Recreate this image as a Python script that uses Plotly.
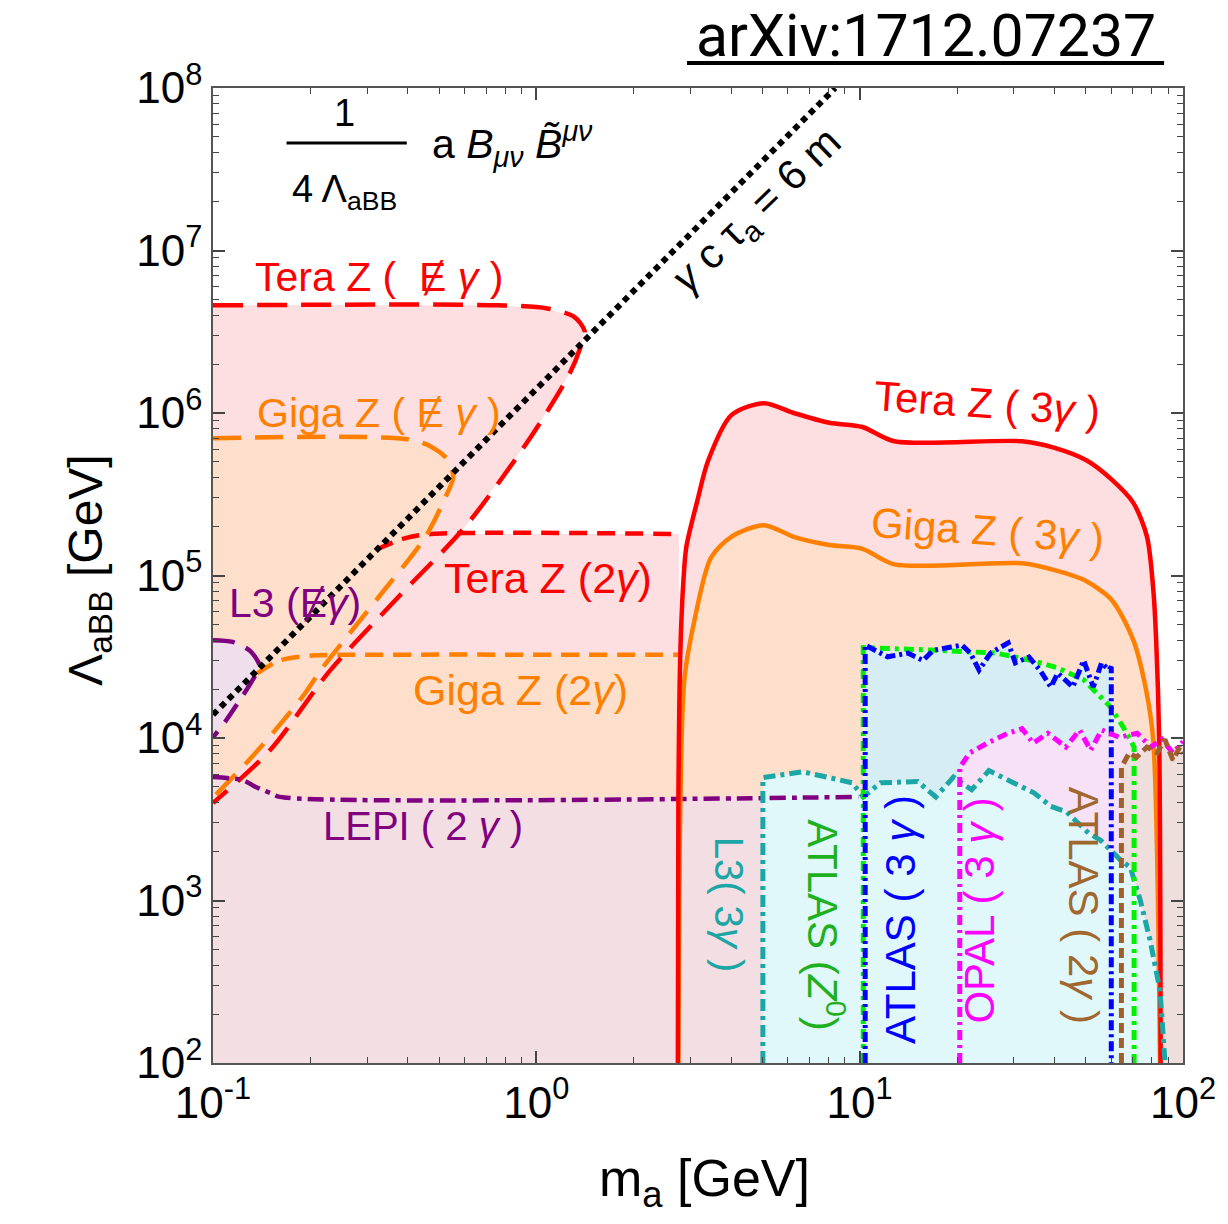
import plotly.graph_objects as go

# ---------------- data ----------------
# decay-length reference line, gamma c tau_a = 6 m
ctau_m = [0.1, 8.4]
ctau_L = [1.39e4, 1.0e8]

# Tera Z, missing energy + photon
tera_me_m = [0.1, 0.76, 1.08, 1.31, 1.41, 1.37, 1.27, 0.96, 0.603, 0.375, 0.230, 0.150, 0.1]
tera_me_L = [4.6e6, 4.6e6, 4.4e6, 3.9e6, 3.2e6, 2.55e6, 1.76e6, 7.1e5, 2.0e5, 7.4e4, 2.6e4, 8.4e3, 3.98e3]

# Giga Z, missing energy + photon
giga_me_m = [0.1, 0.40, 0.473, 0.535, 0.553, 0.522, 0.454, 0.326, 0.218, 0.189, 0.1355, 0.1]
giga_me_L = [7.0e5, 6.9e5, 6.2e5, 5.1e5, 4.0e5, 3.0e5, 1.73e5, 7.4e4, 2.7e4, 1.79e4, 8.1e3, 4.3e3]

# Tera Z / Giga Z, two photons
tera_2g_m = [0.319, 0.394, 0.473, 2.76]
tera_2g_L = [1.44e5, 1.70e5, 1.80e5, 1.80e5]
giga_2g_m = [0.137, 0.161, 0.203, 0.26, 2.76]
giga_2g_L = [2.5e4, 3.0e4, 3.22e4, 3.25e4, 3.25e4]

# Tera Z / Giga Z, three photons
tera_3g_m = [2.74, 2.75, 2.79, 2.85, 2.91, 3.15, 3.40, 4.01, 5.06, 6.25, 8.07, 10.2, 12.8,
             31.8, 40.1, 50.4, 60.1, 70.2, 77.4, 81.0, 82.6, 84.4, 85.3]
tera_3g_L = [100, 4.2e3, 3.5e4, 9.3e4, 1.5e5, 2.9e5, 5.1e5, 9.7e5, 1.15e6, 1.0e6, 8.7e5, 8.2e5, 6.7e5,
             6.7e5, 6.1e5, 5.1e5, 3.9e5, 2.8e5, 1.73e5, 8.0e4, 4.0e4, 9.7e3, 100]
giga_3g_m = [2.75, 2.79, 2.87, 3.08, 3.47, 4.01, 5.06, 6.25, 8.07, 10.2, 12.8, 31.8, 40.1,
             49.3, 60.1, 70.2, 76.9, 80.9, 84.9]
giga_3g_L = [100, 4.15e3, 2.3e4, 5.25e4, 1.29e5, 1.73e5, 2.04e5, 1.73e5, 1.54e5, 1.46e5, 1.17e5,
             1.19e5, 1.08e5, 9.4e4, 7.1e4, 4.0e4, 1.97e4, 9.7e3, 100]

# L3, missing energy + photon
l3_me_m = [0.1, 0.115, 0.130, 0.139, 0.133, 0.121, 0.110, 0.1]
l3_me_L = [4.0e4, 3.9e4, 3.45e4, 2.8e4, 2.3e4, 1.71e4, 1.29e4, 1.01e4]

# LEP I, two photons
lepi_m = [0.1, 0.1236, 0.1355, 0.150, 0.161, 9.9]
lepi_L = [5.75e3, 5.5e3, 5.0e3, 4.6e3, 4.34e3, 4.34e3]

# L3, three photons
l3_3g_m = [5.02, 5.02, 6.67, 8.59, 9.48, 10.26, 11.6, 15.1, 17.2, 19.5, 22.2, 25.1, 30.1, 34.6,
           39.0, 43.7, 51.0, 55.6, 64.0, 68.7, 73.8, 79.1, 84.9, 88.0]
l3_3g_L = [100, 5.7e3, 6.2e3, 5.6e3, 5.3e3, 4.34e3, 5.3e3, 5.4e3, 4.34e3, 5.75e3, 4.8e3, 6.3e3, 5.3e3,
           4.6e3, 3.8e3, 3.5e3, 2.6e3, 2.35e3, 1.78e3, 1.6e3, 1.0e3, 570, 280, 100]

# ATLAS, Z0 width
z0_m = [10.26, 10.26, 17.2, 21.5, 26.4, 34.1, 41.0, 49.3, 59.7, 65.3, 70.6, 70.6]
z0_L = [100, 3.6e4, 3.47e4, 3.39e4, 3.33e4, 3.0e4, 2.7e4, 2.28e4, 1.55e4, 1.17e4, 8.8e3, 100]

# ATLAS, three photons
atlas_3g_m = [10.4, 10.4, 12.2, 14.1, 15.7, 16.9, 19.2, 20.7, 22.0, 23.4, 25.4, 28.8, 30.3, 33.4,
              36.1, 39.0, 41.0, 45.6, 49.3, 52.8, 56.0, 59.0, 60.0, 60.0]
atlas_3g_L = [100, 3.73e4, 3.16e4, 3.33e4, 3.0e4, 3.47e4, 3.63e4, 3.73e4, 3.33e4, 2.62e4, 3.33e4,
              3.85e4, 2.9e4, 3.15e4, 2.62e4, 2.06e4, 2.51e4, 2.06e4, 3.0e4, 2.06e4, 2.9e4, 2.62e4,
              2.74e4, 100]

# OPAL, three photons
opal_m = [20.4, 20.4, 21.9, 24.8, 28.8, 31.8, 34.4, 38.2, 43.4, 47.9, 51.8, 56.0, 63.5, 72.1,
          79.6, 86.1, 93.1, 100]
opal_L = [100, 6.6e3, 8.1e3, 9.3e3, 1.07e4, 1.14e4, 9.3e3, 1.07e4, 8.8e3, 1.12e4, 8.4e3, 1.12e4,
          1.01e4, 1.07e4, 8.8e3, 9.8e3, 8.1e3, 9.5e3]

# ATLAS, two photons
atlas_2g_m = [64.5, 64.5, 68.2, 71.8, 77.4, 83.2, 87.9, 93.1, 97.7, 100]
atlas_2g_L = [100, 6.6e3, 8.1e3, 7.6e3, 8.8e3, 8.1e3, 9.8e3, 7.3e3, 8.8e3, 8.0e3]

x_tick_vals = [0.1, 1, 10, 100]
x_tick_text = ["10<sup>-1</sup>", "10<sup>0</sup>", "10<sup>1</sup>", "10<sup>2</sup>"]
y_tick_vals = [1e2, 1e3, 1e4, 1e5, 1e6, 1e7, 1e8]
y_tick_text = ["10<sup>%d</sup>" % k for k in range(2, 9)]

M_MIN, M_MAX, L_MIN = 0.1, 100, 100

# ---------------- styling ----------------
RED, ORANGE, PURPLE = "#FF0000", "#FF7F00", "#800080"
TEAL, GREEN, BLUE, MAGENTA, BROWN = "#1CA6A6", "#00F000", "#0000FF", "#FF00FF", "#A0602C"
PINK, PEACH, MAUVE, LAVENDER = "#FDDEE1", "#FDDFCB", "#F2DEE3", "#EFDFEC"
CYAN, LBLUE, LMAG, LGREEN, LBROWN = "#E0F8FA", "#D6EEF3", "#F7E1F6", "#E4F1E2", "#EEDFDC"
FONT = "Liberation Sans"

fig = go.Figure()


def add_fill(x, y, color):
    fig.add_trace(go.Scatter(x=x, y=y, mode="lines", fill="toself", fillcolor=color,
                             line=dict(width=0), hoverinfo="skip", showlegend=False))


def add_line(x, y, color, width, dash="solid", shape="linear"):
    fig.add_trace(go.Scatter(x=x, y=y, mode="lines", hoverinfo="skip", showlegend=False,
                             line=dict(color=color, width=width, dash=dash, shape=shape,
                                       smoothing=0.8)))


def add_text(x, y, text, size, color="black", ref="paper", angle=0, family=FONT):
    fig.add_annotation(x=x, y=y, xref=ref if ref == "paper" else "x",
                       yref=ref if ref == "paper" else "y", text=text, showarrow=False,
                       textangle=angle, xanchor="center", yanchor="middle",
                       font=dict(family=family, size=size, color=color))


# filled regions, back to front
add_fill([M_MIN] + tera_2g_m + [tera_2g_m[-1], M_MIN], [ctau_L[0]] + tera_2g_L + [L_MIN, L_MIN], PINK)
add_fill([M_MIN] + giga_2g_m + [giga_2g_m[-1], M_MIN], [ctau_L[0]] + giga_2g_L + [L_MIN, L_MIN], PEACH)
add_fill(tera_me_m, tera_me_L, PINK)
add_fill(giga_me_m, giga_me_L, PEACH)
add_fill(tera_3g_m, tera_3g_L, PINK)
add_fill(giga_3g_m, giga_3g_L, PEACH)
add_fill(l3_me_m, l3_me_L, LAVENDER)
add_fill(lepi_m + [lepi_m[-1], M_MIN], lepi_L + [L_MIN, L_MIN], MAUVE)
add_fill(z0_m, z0_L, LGREEN)
add_fill(atlas_3g_m, atlas_3g_L, LBLUE)
add_fill(opal_m + [M_MAX], opal_L + [L_MIN], LMAG)
add_fill(atlas_2g_m + [M_MAX], atlas_2g_L + [L_MIN], LBROWN)
add_fill(l3_3g_m, l3_3g_L, CYAN)

# boundary curves
add_line(tera_2g_m, tera_2g_L, RED, 4.5, "18px,10px", "spline")
add_line(giga_2g_m, giga_2g_L, ORANGE, 4.5, "18px,10px", "spline")
add_line(tera_me_m, tera_me_L, RED, 4.5, "30px,14px", "spline")
add_line(giga_me_m, giga_me_L, ORANGE, 4.5, "28px,14px", "spline")
add_line(l3_me_m, l3_me_L, PURPLE, 4.5, "22px,12px", "spline")
add_line(lepi_m, lepi_L, PURPLE, 4.5, "16px,6px,5px,6px", "spline")
add_line(ctau_m, ctau_L, "black", 6, "6px,5px")
add_line(giga_3g_m, giga_3g_L, ORANGE, 4.5, "solid", "spline")
add_line(tera_3g_m, tera_3g_L, RED, 4.5, "solid", "spline")
add_line(l3_3g_m, l3_3g_L, TEAL, 5, "12px,5px,4px,5px")
add_line(z0_m, z0_L, GREEN, 5, "10px,5px,4px,5px")
add_line(atlas_3g_m, atlas_3g_L, BLUE, 5, "10px,4px,3px,4px")
add_line(opal_m, opal_L, MAGENTA, 5, "10px,5px,3px,5px")
add_line(atlas_2g_m, atlas_2g_L, BROWN, 5, "10px,5px")

# ---------------- labels ----------------
G = "<i>γ</i>"
ME = "\u0246"
labels = [
    # text, log10 m, log10 Lambda, colour, angle, size
    ("Tera Z (  %s %s )" % (ME, G), -0.487, 6.837, RED, 0, 41),
    ("Giga Z ( %s %s )" % (ME, G), -0.487, 6.0, ORANGE, 0, 41),
    ("Tera Z (2%s)" % G, 0.035, 4.985, RED, 0, 43),
    ("L3 (%s%s)" % (ME, G), -0.745, 4.83, PURPLE, 0, 41),
    ("Giga Z (2%s)" % G, -0.048, 4.295, ORANGE, 0, 43),
    ("LEPI ( 2 %s )" % G, -0.349, 3.458, PURPLE, 0, 40),
    ("Tera Z ( 3%s )" % G, 1.395, 6.06, RED, 4, 42),
    ("Giga Z ( 3%s )" % G, 1.395, 5.28, ORANGE, 4, 42),
    ("L3( 3%s )" % G, 0.597, 2.972, TEAL, 90, 40),
    ("ATLAS (<i>Z</i><sup>0</sup>)", 0.895, 2.85, "#1FB01F", 90, 42),
    ("ATLAS ( 3 %s )" % G, 1.125, 2.88, BLUE, -90, 42),
    ("OPAL ( 3 %s )" % G, 1.37, 2.94, MAGENTA, -90, 42),
    ("ATLAS ( 2%s )" % G, 1.693, 2.97, "#A0682E", 90, 42),
]
for txt, lx, ly, col, ang, sz in labels:
    add_text(lx, ly, txt, sz, col, ref="data", angle=ang)

add_text(0.686, 7.237, "<i>γ</i> c τ<sub>a</sub> = 6 m", 42, ref="data", angle=-44)

# interaction term
add_text(0.1352, 0.9744, "1", 38)
add_text(0.1352, 0.893, "4 Λ<sub>aBB</sub>", 38)
add_text(0.3084, 0.943, "a <i>B</i><sub><i>μν</i></sub> <i>B\u0303</i><sup><i>μν</i></sup>", 41)
fig.add_shape(type="line", xref="paper", yref="paper", x0=0.0758, x1=0.1998, y0=0.9436, y1=0.9436,
              line=dict(color="black", width=3))

# axis titles
add_text(0.507, -0.122, "m<sub>a</sub> [GeV]", 52)
add_text(-0.128, 0.5056, "Λ<sub>aBB</sub> [GeV]", 48, angle=-90)

# reference tag
add_text(0.7346, 1.0535, "arXiv:1712.07237", 59, family="Roboto")
fig.add_shape(type="line", xref="paper", yref="paper", x0=0.4887, x1=0.9805, y0=1.0256, y1=1.0256,
              line=dict(color="black", width=4))

axis_common = dict(showgrid=False, zeroline=False, showline=True, linecolor="#555555",
                   linewidth=1.5, mirror="allticks", ticks="inside", ticklen=12, tickwidth=1.5,
                   tickcolor="#444444", tickmode="array",
                   tickfont=dict(family=FONT, size=44, color="black"),
                   minor=dict(ticks="inside", ticklen=6, tickwidth=1.2, tickcolor="#444444",
                              dtick="D1", showgrid=False))

fig.update_xaxes(type="log", range=[-1, 2], tickvals=x_tick_vals, ticktext=x_tick_text,
                 **axis_common)
fig.update_yaxes(type="log", range=[2, 8], tickvals=y_tick_vals, ticktext=y_tick_text,
                 **axis_common)

fig.update_layout(width=1228, height=1224, margin=dict(l=213, r=39, t=88, b=161),
                  plot_bgcolor="white", paper_bgcolor="white", showlegend=False)

fig.write_html("out.html")
